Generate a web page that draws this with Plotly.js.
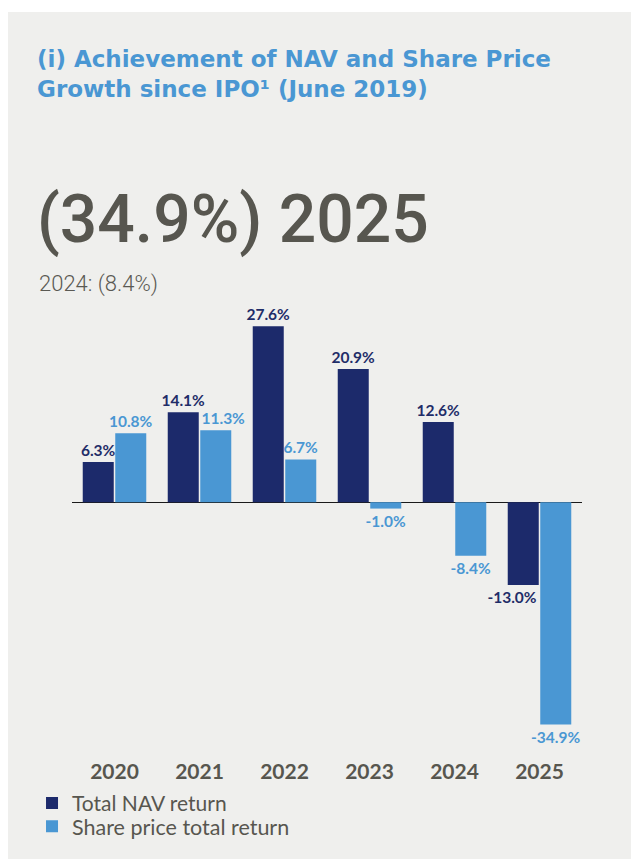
<!DOCTYPE html>
<html>
<head>
<meta charset="utf-8">
<script src="https://cdn.plot.ly/plotly-3.0.1.min.js"></script>
<style>
  html, body { margin: 0; padding: 0; background: #ffffff; }
  #chart { position: absolute; left: 8px; top: 12px; width: 623px; height: 847px; }
</style>
</head>
<body>
<div id="chart"></div>
<script>
// ---- data ----
const years = ['2020', '2021', '2022', '2023', '2024', '2025'];
const navReturn = [6.3, 14.1, 27.6, 20.9, 12.6, -13.0];
const shareReturn = [10.8, 11.3, 6.7, -1.0, -8.4, -34.9];
const seriesNames = ['Total NAV return', 'Share price total return'];
const chartTitle = '(i) Achievement of NAV and Share Price<br>Growth since IPO¹ (June 2019)';
const headline = '(34.9%) 2025';
const priorYear = '2024: (8.4%)';

// label nudges (in non-breaking spaces; negative = push label left), as in the source layout
const navLabelNudge = [0, 0, 0, 0, 0, -6];
const shareLabelNudge = [0, 4, 0, 0, 0, 0];

const NAVY = '#1c2a6b';
const BLUE = '#4a97d3';
const GREY = '#57564f';
const BG = '#efefed';

const NB = '\u00A0';
const fmt = (v, n) => {
  const s = v.toFixed(1) + '%';
  if (n > 0) return NB.repeat(n) + s;
  if (n < 0) return s + NB.repeat(-n);
  return s;
};

const traces = [
  {
    type: 'bar', name: seriesNames[0], x: years, y: navReturn,
    marker: { color: NAVY },
    text: navReturn.map((v, i) => fmt(v, navLabelNudge[i])),
    textposition: 'outside', cliponaxis: false, constraintext: 'none',
    textfont: { family: 'Lato', size: 15.5, color: '#1f2d68', weight: 'bold' },
    hoverinfo: 'skip', legend: 'legend'
  },
  {
    type: 'bar', name: seriesNames[1], x: years, y: shareReturn,
    marker: { color: BLUE },
    text: shareReturn.map((v, i) => fmt(v, shareLabelNudge[i])),
    textposition: 'outside', cliponaxis: false, constraintext: 'none',
    textfont: { family: 'Lato', size: 15.5, color: BLUE, weight: 'bold' },
    hoverinfo: 'skip', legend: 'legend2'
  }
];

const layout = {
  width: 623, height: 847,
  paper_bgcolor: BG, plot_bgcolor: BG,
  margin: { l: 64, r: 49, t: 299, b: 119 },
  barmode: 'group', bargap: 0.235, bargroupgap: 0.046,
  title: {
    text: chartTitle,
    font: { family: 'DejaVu Sans', size: 23, color: BLUE, weight: 'bold' },
    xref: 'container', x: 29 / 623, xanchor: 'left',
    yref: 'container', y: 1 - 55 / 847, yanchor: 'top'
  },
  xaxis: {
    type: 'category', showgrid: false, zeroline: false, showline: false,
    ticks: 'outside', ticklen: 15, tickcolor: 'rgba(0,0,0,0)',
    tickfont: { family: 'Lato', size: 21, color: GREY, weight: 'bold' },
    fixedrange: true
  },
  yaxis: {
    range: [-37, 30], showgrid: false, showticklabels: false,
    zeroline: true, zerolinecolor: '#1a1a1a', zerolinewidth: 1.3,
    fixedrange: true
  },
  showlegend: true,
  legend: {
    x: -0.0784, xanchor: 'left', y: -0.1049, yanchor: 'top',
    bgcolor: 'rgba(0,0,0,0)', borderwidth: 0,
    font: { family: 'Lato', size: 21, color: GREY }
  },
  legend2: {
    x: -0.0784, xanchor: 'left', y: -0.1585, yanchor: 'top',
    bgcolor: 'rgba(0,0,0,0)', borderwidth: 0,
    font: { family: 'Lato', size: 21.5, color: GREY }
  },
  annotations: [
    {
      text: headline, showarrow: false,
      xref: 'paper', yref: 'paper', x: -37 / 510, xanchor: 'left',
      y: 1 + 92 / 429, yanchor: 'middle',
      font: { family: 'Roboto', size: 66, color: GREY, weight: 500 }
    },
    {
      text: priorYear, showarrow: false,
      xref: 'paper', yref: 'paper', x: -35 / 510, xanchor: 'left',
      y: 1 + 27 / 429, yanchor: 'middle',
      font: { family: 'Roboto', size: 22, color: '#5a5953', weight: 300 }
    }
  ]
};

Plotly.newPlot('chart', traces, layout, { displayModeBar: false, staticPlot: true });
</script>
</body>
</html>
